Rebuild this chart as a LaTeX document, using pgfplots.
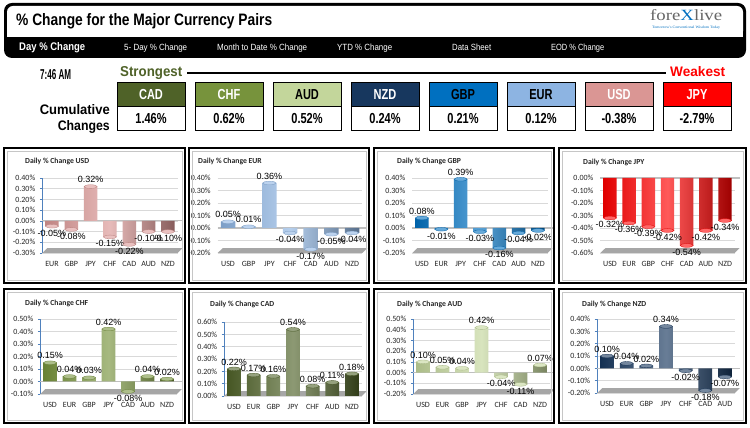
\documentclass[border=0pt]{standalone}
\usepackage{pgfplots}
\pgfplotsset{compat=1.18}
\usepackage{pgfplotstable}
\usepackage{graphicx}
\usepackage{fontspec}
\setmainfont{Carlito}
\newfontfamily\lib{Liberation Sans}
\newfontfamily\libser{Liberation Serif}

\definecolor{cCAD}{HTML}{4F6228}
\definecolor{cCHF}{HTML}{77933C}
\definecolor{cAUD}{HTML}{C3D69B}
\definecolor{cNZD}{HTML}{17375E}
\definecolor{cGBP}{HTML}{0070C0}
\definecolor{cEUR}{HTML}{8DB4E2}
\definecolor{cUSD}{HTML}{DA9694}
\definecolor{cJPY}{HTML}{FF0000}
\definecolor{axblue}{HTML}{4F81BD}
\definecolor{gridc}{HTML}{D9D9D9}
\definecolor{floorc}{HTML}{A6A6A6}
\definecolor{zeroc}{HTML}{BFBFBF}

\newcommand\fit[3]{\resizebox{#1pt}{#2pt}{\lib\bfseries #3}}
\newcommand\fitr[3]{\resizebox{#1pt}{#2pt}{\lib #3}}
\newcommand\imp[2]{\scalebox{0.76}[1]{\fontsize{#1}{#1}\selectfont\lib\bfseries #2}}

\pgfplotsset{
  panel/.style={
    scale only axis, clip=false,
    xmin=-0.5, xmax=6.5, xtick={0,1,2,3,4,5,6},
    axis lines*=left,
    x axis line style={draw=none},
    xtick style={draw=none},
    ytick style={draw=axblue, line width=0.6pt},
    tick align=outside, major tick length=2.5pt,
    y axis line style={draw=axblue, line width=0.9pt},
    ymajorgrids, grid style={draw=gridc, line width=0.6pt},
    tick label style={font=\fontsize{8}{9}\selectfont, text=black!85},
    xticklabel style={yshift=-2pt},
    yticklabel style={xshift=-1pt},
  },
  noyaxis/.style={y axis line style={draw=none}, ytick style={draw=none}},
  bars/.style={ybar, bar width=0.7, draw=none,
    left color=#1!88!black, right color=#1!62!black, middle color=#1!65!white,
    nodes near coords={\pgfmathprintnumber[fixed,fixed zerofill,precision=2,assume math mode=true]{\pgfplotspointmeta}\%},
    nodes near coords align=vertical,
    every node near coord/.append style={font=\lib\fontsize{9}{10}\selectfont, text=black, inner sep=3.5pt}},
  caps/.style={only marks, mark=*, mark size=6.6pt,
    mark options={yscale=0.28, fill=#1!60!white, draw=#1!85!black, line width=0.3pt}},
}

\pgfplotstableread{
x y
0 -0.05
1 -0.08
2 0.32
3 -0.15
4 -0.22
5 -0.10
6 -0.10
}\tUSD
\pgfplotstableread{
x y
0 0.05
1 0.01
2 0.36
3 -0.04
4 -0.17
5 -0.05
6 -0.04
}\tEUR
\pgfplotstableread{
x y
0 0.08
1 -0.01
2 0.39
3 -0.03
4 -0.16
5 -0.04
6 -0.02
}\tGBP
\pgfplotstableread{
x y
0 -0.32
1 -0.36
2 -0.39
3 -0.42
4 -0.54
5 -0.42
6 -0.34
}\tJPY
\pgfplotstableread{
x y
0 0.15
1 0.04
2 0.03
3 0.42
4 -0.08
5 0.04
6 0.02
}\tCHF
\pgfplotstableread{
x y
0 0.22
1 0.17
2 0.16
3 0.54
4 0.08
5 0.11
6 0.18
}\tCAD
\pgfplotstableread{
x y
0 0.10
1 0.05
2 0.04
3 0.42
4 -0.04
5 -0.11
6 0.07
}\tAUD
\pgfplotstableread{
x y
0 0.10
1 0.04
2 0.02
3 0.34
4 -0.02
5 -0.18
6 -0.07
}\tNZD

\begin{document}
\begin{tikzpicture}[x=1pt,y=1pt]
\path[use as bounding box] (0,0) rectangle (750,428);
\fill[white] (0,0) rectangle (750,428);

% ---------- header ----------
\fill[black, rounded corners=8pt] (4,370) rectangle (746,425);
\fill[white, rounded corners=6pt] (7,391) rectangle (743,422);
\fill[white] (7,391) rectangle (743,398);
\node[anchor=base west, inner sep=0] at (16,402) {\fit{256}{12}{\% Change for the Major Currency Pairs}};
\node[anchor=base west, inner sep=0, text=black!60] at (650,407) {\resizebox{72pt}{11pt}{\libser fore\textcolor{cGBP}{X}live}};
\node[anchor=base west, inner sep=0, text=cGBP] at (652,399) {\resizebox{68pt}{2.5pt}{\libser Tomorrow's Conventional Wisdom Today}};
\node[anchor=base west, inner sep=0, text=white] at (19,377) {\fit{66}{8}{Day \% Change}};
\node[anchor=base west, inner sep=0, text=white] at (124,377) {\fitr{63}{6.5}{5- Day \% Change}};
\node[anchor=base west, inner sep=0, text=white] at (217,377) {\fitr{90}{6.5}{Month to Date \% Change}};
\node[anchor=base west, inner sep=0, text=white] at (337,377) {\fitr{55}{6.5}{YTD \% Change}};
\node[anchor=base west, inner sep=0, text=white] at (452,377) {\fitr{39}{6.5}{Data Sheet}};
\node[anchor=base west, inner sep=0, text=white] at (551,377) {\fitr{53}{6.5}{EOD \% Change}};

% ---------- strength row ----------
\node[anchor=base west, inner sep=0] at (40,348) {\fit{31}{10}{7:46 AM}};
\node[anchor=base west, inner sep=0, text=cCAD] at (120,351) {\fit{62}{10}{Strongest}};
\draw[line width=1.4pt] (187,355) -- (666,355);
\node[anchor=base west, inner sep=0, text=cJPY] at (670,351) {\fit{55}{10}{Weakest}};
\node[anchor=base east, inner sep=0] at (110,313) {\fit{70}{10}{Cumulative}};
\node[anchor=base east, inner sep=0] at (110,297) {\fit{52}{10}{Changes}};
\foreach \i/\c/\t/\v/\tc in {0/cCAD/CAD/1.46/white, 1/cCHF/CHF/0.62/white, 2/cAUD/AUD/0.52/black, 3/cNZD/NZD/0.24/white, 4/cGBP/GBP/0.21/black, 5/cEUR/EUR/0.12/black, 6/cUSD/USD/-0.38/white, 7/cJPY/JPY/-2.79/white}{
  \pgfmathsetmacro\xx{117+78*\i}
  \fill[\c] (\xx,321) rectangle ++(68,24);
  \draw[line width=1pt] (\xx,321) rectangle ++(68,24);
  \draw[line width=1pt] (\xx,297) rectangle ++(68,24);
  \node[text=\tc, inner sep=0] at (\xx+34,333) {\imp{14.5}{\t}};
  \node[text=black, inner sep=0] at (\xx+34,309) {\imp{14.5}{\v\%}};
}

% ---------- row 1 ----------
\begin{axis}[panel, at={(42.3pt,175pt)}, anchor=south west, width=135.3pt, height=75pt,
  ymin=-0.3, ymax=0.4, ytick={-0.3,-0.2,-0.1,0,0.1,0.2,0.3,0.4},
  yticklabels={-0.30\%,-0.20\%,-0.10\%,0.00\%,0.10\%,0.20\%,0.30\%,0.40\%},
  xticklabels={EUR,GBP,JPY,CHF,CAD,AUD,NZD}]
\fill[floorc] (rel axis cs:0,0) -- (rel axis cs:1,0) -- ([xshift=5pt]rel axis cs:1,0.065) -- ([xshift=5pt]rel axis cs:0,0.065) -- cycle;
\draw[zeroc, line width=1.2pt] (axis cs:-0.5,0) -- ([xshift=5pt]axis cs:6.5,0);
\addplot[bars=cUSD] table {\tUSD};
\addplot[caps=cUSD] table {\tUSD};
\end{axis}

\begin{axis}[panel, noyaxis, at={(217.7pt,175pt)}, anchor=south west, width=144.7pt, height=75pt,
  ymin=-0.2, ymax=0.4, ytick={-0.2,-0.1,0,0.1,0.2,0.3,0.4},
  yticklabels={-0.20\%,-0.10\%,0.00\%,0.10\%,0.20\%,0.30\%,0.40\%},
  xticklabels={USD,GBP,JPY,CHF,CAD,AUD,NZD}]
\fill[floorc] (rel axis cs:0,0) -- (rel axis cs:1,0) -- ([xshift=5pt]rel axis cs:1,0.065) -- ([xshift=5pt]rel axis cs:0,0.065) -- cycle;
\draw[zeroc, line width=1.2pt] (axis cs:-0.5,0) -- ([xshift=5pt]axis cs:6.5,0);
\addplot[bars=cEUR] table {\tEUR};
\addplot[caps=cEUR] table {\tEUR};
\end{axis}

\begin{axis}[panel, noyaxis, at={(412.3pt,175pt)}, anchor=south west, width=135.3pt, height=75pt,
  ymin=-0.2, ymax=0.4, ytick={-0.2,-0.1,0,0.1,0.2,0.3,0.4},
  yticklabels={-0.20\%,-0.10\%,0.00\%,0.10\%,0.20\%,0.30\%,0.40\%},
  xticklabels={USD,EUR,JPY,CHF,CAD,AUD,NZD}]
\fill[floorc] (rel axis cs:0,0) -- (rel axis cs:1,0) -- ([xshift=5pt]rel axis cs:1,0.065) -- ([xshift=5pt]rel axis cs:0,0.065) -- cycle;
\draw[zeroc, line width=1.2pt] (axis cs:-0.5,0) -- ([xshift=5pt]axis cs:6.5,0);
\addplot[bars=cGBP] table {\tGBP};
\addplot[caps=cGBP] table {\tGBP};
\end{axis}

\begin{axis}[panel, noyaxis, at={(600.4pt,175pt)}, anchor=south west, width=134.2pt, height=75pt,
  ymin=-0.6, ymax=0, ytick={-0.6,-0.5,-0.4,-0.3,-0.2,-0.1,0},
  yticklabels={-0.60\%,-0.50\%,-0.40\%,-0.30\%,-0.20\%,-0.10\%,0.00\%},
  xticklabels={USD,EUR,GBP,CHF,CAD,AUD,NZD}]
\fill[floorc] (rel axis cs:0,0) -- (rel axis cs:1,0) -- ([xshift=5pt]rel axis cs:1,0.065) -- ([xshift=5pt]rel axis cs:0,0.065) -- cycle;
\draw[zeroc, line width=1.6pt] (axis cs:-0.5,0) -- ([xshift=5pt]axis cs:6.5,0);
\addplot[bars=cJPY] table {\tJPY};
\addplot[caps=cJPY] table {\tJPY};
\end{axis}

% ---------- row 2 ----------
\begin{axis}[panel, at={(40.3pt,34pt)}, anchor=south west, width=136.5pt, height=75pt,
  ymin=-0.1, ymax=0.5, ytick={-0.1,0,0.1,0.2,0.3,0.4,0.5},
  yticklabels={-0.10\%,0.00\%,0.10\%,0.20\%,0.30\%,0.40\%,0.50\%},
  xticklabels={USD,EUR,GBP,JPY,CAD,AUD,NZD}]
\fill[floorc] (rel axis cs:0,0) -- (rel axis cs:1,0) -- ([xshift=5pt]rel axis cs:1,0.065) -- ([xshift=5pt]rel axis cs:0,0.065) -- cycle;
\draw[zeroc, line width=1.2pt] (axis cs:-0.5,0) -- ([xshift=5pt]axis cs:6.5,0);
\addplot[bars=cCHF] table {\tCHF};
\addplot[caps=cCHF] table {\tCHF};
\end{axis}

\begin{axis}[panel, at={(224.2pt,32pt)}, anchor=south west, width=137.6pt, height=74pt,
  ymin=0, ymax=0.6, ytick={0,0.1,0.2,0.3,0.4,0.5,0.6},
  yticklabels={0.00\%,0.10\%,0.20\%,0.30\%,0.40\%,0.50\%,0.60\%},
  xticklabels={USD,EUR,GBP,JPY,CHF,AUD,NZD}]
\fill[floorc] (rel axis cs:0,0) -- (rel axis cs:1,0) -- ([xshift=5pt]rel axis cs:1,0.065) -- ([xshift=5pt]rel axis cs:0,0.065) -- cycle;
\addplot[bars=cCAD] table {\tCAD};
\addplot[caps=cCAD] table {\tCAD};
\end{axis}

\begin{axis}[panel, at={(413.3pt,34pt)}, anchor=south west, width=136.5pt, height=75pt,
  ymin=-0.2, ymax=0.5, ytick={-0.2,-0.1,0,0.1,0.2,0.3,0.4,0.5},
  yticklabels={-0.20\%,-0.10\%,0.00\%,0.10\%,0.20\%,0.30\%,0.40\%,0.50\%},
  xticklabels={USD,EUR,GBP,JPY,CHF,CAD,NZD}]
\fill[floorc] (rel axis cs:0,0) -- (rel axis cs:1,0) -- ([xshift=5pt]rel axis cs:1,0.065) -- ([xshift=5pt]rel axis cs:0,0.065) -- cycle;
\draw[zeroc, line width=1.2pt] (axis cs:-0.5,0) -- ([xshift=5pt]axis cs:6.5,0);
\addplot[bars=cAUD] table {\tAUD};
\addplot[caps=cAUD] table {\tAUD};
\end{axis}

\begin{axis}[panel, at={(597.2pt,35pt)}, anchor=south west, width=137.6pt, height=74pt,
  ymin=-0.2, ymax=0.4, ytick={-0.2,-0.1,0,0.1,0.2,0.3,0.4},
  yticklabels={-0.20\%,-0.10\%,0.00\%,0.10\%,0.20\%,0.30\%,0.40\%},
  xticklabels={USD,EUR,GBP,JPY,CHF,CAD,AUD}]
\fill[floorc] (rel axis cs:0,0) -- (rel axis cs:1,0) -- ([xshift=5pt]rel axis cs:1,0.065) -- ([xshift=5pt]rel axis cs:0,0.065) -- cycle;
\draw[zeroc, line width=1.2pt] (axis cs:-0.5,0) -- ([xshift=5pt]axis cs:6.5,0);
\addplot[bars=cNZD] table {\tNZD};
\addplot[caps=cNZD] table {\tNZD};
\end{axis}

% ---------- panel titles ----------
\foreach \px/\py/\t in {25/267/USD, 198/267/EUR, 397/267/GBP, 583/266/JPY, 25/125/CHF, 210/124/CAD, 397/124/AUD, 582/124/NZD}{
  \node[anchor=west, inner sep=0, font=\fontsize{7.7}{9}\selectfont\bfseries, text=black!85] at (\px,\py) {Daily \% Change \t};
}

% ---------- panel frames ----------
\foreach \xa/\xb in {4/185, 189/369, 374/554, 559/746}{
  \draw[gray!45, line width=0.6pt] (\xa+3,148) rectangle (\xb-3,277);
  \draw[black, line width=2pt] (\xa,145) rectangle (\xb,280);
  \draw[gray!45, line width=0.6pt] (\xa+3,8) rectangle (\xb-3,136);
  \draw[black, line width=2pt] (\xa,5) rectangle (\xb,139);
}
\end{tikzpicture}
\end{document}
